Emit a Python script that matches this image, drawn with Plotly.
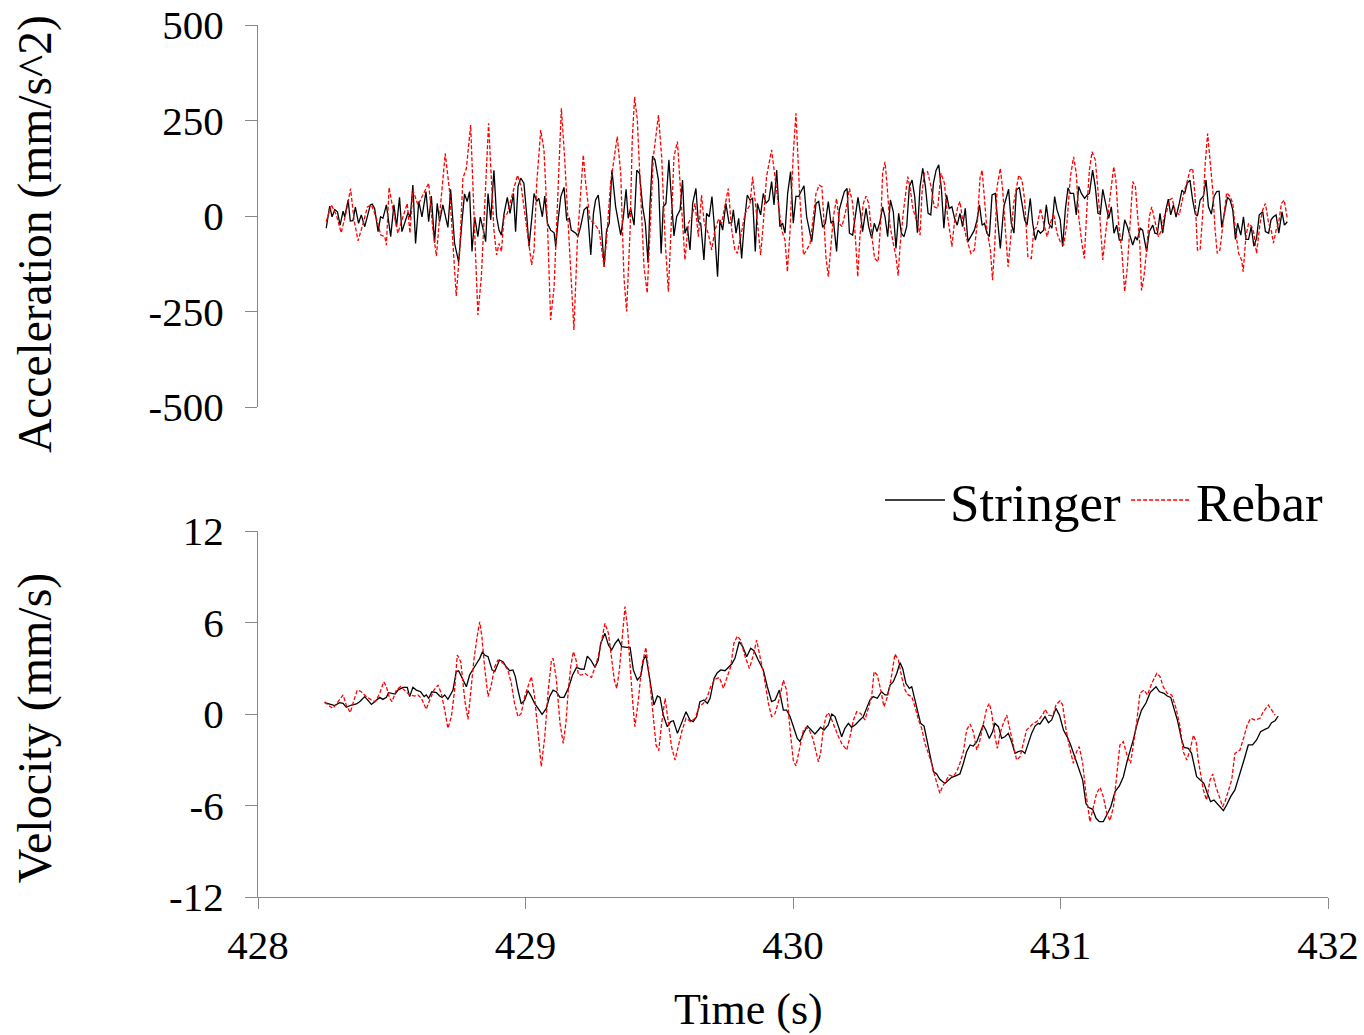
import plotly.graph_objects as go

T0 = 428.0  # time origin (s); time arrays below are seconds after T0

# ---------------- Acceleration (mm/s^2) ----------------
acc_stringer_t = (
    [0.255,0.268,0.277,0.287,0.297,0.307,0.318,0.324,0.337,0.345,0.355,0.364,0.376,0.386,0.399,0.409,0.420,0.427,0.436,0.449,0.458,0.467,0.480,0.496,0.508,0.518,0.529,0.538,0.551,0.561,0.569,0.579,0.589,0.601,0.613,0.628,0.638,0.648,0.660,0.670,0.679,0.691,0.710,0.720,0.735,0.750,0.762,0.772,0.782,0.791,0.800,0.810,0.822,0.831]
    + [0.845,0.851,0.860,0.870,0.882,0.892,0.901,0.910,0.920,0.932,0.942,0.955,0.963,0.972,0.982,0.994,1.004,1.013,1.023,1.032,1.042,1.050,1.063,1.072,1.082,1.094,1.107,1.113,1.122,1.132,1.144,1.154,1.164,1.171,1.188,1.196,1.206,1.219,1.231,1.244,1.254,1.262,1.272,1.281,1.294,1.303,1.313,1.323,1.337,1.356,1.366,1.376,1.384,1.393,1.406,1.416,1.426,1.438,1.448,1.458]
    + [1.465,1.475,1.484,1.497,1.507,1.515,1.525,1.536,1.546,1.555,1.565,1.578,1.587,1.596,1.605,1.615,1.625,1.637,1.646,1.655,1.667,1.677,1.687,1.697,1.705,1.718,1.727,1.737,1.749,1.761,1.771,1.777,1.787,1.797,1.808,1.818,1.829,1.839,1.849,1.859,1.867,1.879,1.889,1.899,1.910,1.920,1.929,1.939,1.951,1.961,1.970,1.980,1.991,2.001,2.011,2.021,2.030,2.041,2.051,2.070,2.082]
    + [2.086,2.096,2.111,2.121,2.132,2.142,2.151,2.163,2.173,2.183,2.192,2.202,2.211,2.223,2.233,2.243,2.253,2.260,2.273,2.283,2.294,2.304,2.314,2.325,2.335,2.344,2.354,2.364,2.375,2.385,2.395,2.405,2.415,2.425,2.435,2.445,2.455,2.465,2.475,2.485,2.495,2.505,2.515,2.525,2.535,2.545,2.555,2.564,2.574,2.584,2.594,2.604,2.614,2.624,2.634,2.644,2.654,2.664,2.678,2.688,2.697]
    + [2.707,2.716,2.725,2.734,2.744,2.756,2.766,2.775,2.788,2.796,2.806,2.816,2.826,2.835,2.846,2.856,2.866,2.875,2.887,2.896,2.906,2.916,2.925,2.937,2.947,2.956,2.968,2.978,2.987,2.999,3.008,3.018,3.028,3.037,3.049,3.059,3.068,3.078,3.090,3.100,3.108,3.120,3.130,3.140,3.149,3.158,3.168,3.180,3.190,3.200,3.210,3.220,3.230,3.240,3.250,3.260,3.270,3.280,3.287,3.298]
    + [3.307,3.322,3.332,3.345,3.353,3.362,3.372,3.382,3.394,3.403,3.412,3.422,3.432,3.444,3.454,3.464,3.474,3.484,3.494,3.504,3.512,3.522,3.534,3.544,3.553,3.564,3.574,3.584,3.593,3.603,3.612,3.624,3.634,3.644,3.654,3.662,3.674,3.684,3.693,3.703,3.713,3.723,3.733,3.743,3.756,3.766,3.778,3.787,3.796,3.806,3.816,3.828,3.837,3.848]
)
acc_stringer = (
    [-32,26,-2,17,11,-24,13,-2,42,-13,-12,23,-19,3,-28,-2,29,31,20,-41,-2,-6,29,-54,29,-28,49,-41,-10,9,-4,81,-72,38,-2,64,-15,52,-70,33,-15,29,-30,70,-72,-120,-19,58,38,64,-93,-2,-54,-3]
    + [-45,-67,59,-10,120,-2,-37,-50,7,49,7,59,-41,77,99,86,7,-80,-10,59,38,46,-2,52,-19,-37,-44,-80,-10,51,75,-10,-6,-37,-45,-54,-28,16,24,-102,7,42,55,-2,-133,-37,-19,120,24,-50,-2,70,-6,20,-24,120,112,24,-19,-122]
    + [24,157,147,94,-98,24,33,147,42,-52,-2,16,94,-45,-28,-89,33,72,-15,-19,-115,7,-2,51,-19,-159,-10,-37,33,-19,-17,16,-45,-6,-111,-19,55,42,46,-93,33,3,59,33,42,90,29,120,-28,-19,-45,59,116,-19,52,51,64,79,-2,-67,7]
    + [33,38,-30,-19,38,-19,-12,-93,16,42,64,72,-45,-50,-2,49,3,-41,20,-28,-58,-19,-41,-15,24,-2,-54,42,11,-85,7,-45,-54,-28,77,94,51,-44,77,125,77,7,3,86,120,134,68,-32,55,20,24,-6,-24,7,-28,20,-67,-54,-37,-10,29]
    + [-24,-19,-45,-54,55,59,-19,-85,24,42,70,-19,-45,68,75,33,-10,-24,46,-19,-63,-37,-45,-37,29,-19,-32,51,16,-10,-80,16,74,59,59,3,77,59,46,55,59,120,77,7,5,70,33,-6,24,-45,-24,-63,-63,-10,-28,-54,-76,-54,-63,-32]
    + [-37,-93,-41,-24,-45,-47,7,-45,16,44,3,29,-3,33,68,59,86,94,42,5,0,42,52,94,24,5,51,64,65,-30,7,49,42,16,-61,-19,-50,-2,-61,-61,-28,-79,-58,3,11,-41,-45,-10,-2,3,-45,11,-24,-15]
)

acc_rebar_t = (
    [0.255,0.274,0.293,0.311,0.330,0.346,0.359,0.374,0.393,0.409,0.424,0.443,0.459,0.474,0.480,0.490,0.505,0.523,0.536,0.558,0.568,0.579,0.598,0.617,0.638,0.654,0.667,0.683,0.700,0.717,0.729,0.741,0.754,0.766,0.779,0.795,0.804,0.816,0.822,0.835]
    + [0.862,0.872,0.882,0.892,0.901,0.910,0.920,0.932,0.945,0.970,0.984,1.001,1.013,1.023,1.032,1.042,1.057,1.069,1.082,1.094,1.107,1.119,1.134,1.146,1.163,1.181,1.194,1.206,1.216,1.225,1.241,1.256,1.275,1.294,1.303,1.318,1.343,1.356,1.368,1.378,1.391,1.399,1.408,1.418,1.431,1.443,1.455]
    + [1.465,1.478,1.497,1.509,1.522,1.534,1.543,1.555,1.568,1.578,1.587,1.596,1.609,1.621,1.634,1.646,1.658,1.668,1.683,1.696,1.708,1.721,1.733,1.746,1.758,1.771,1.783,1.792,1.804,1.821,1.839,1.849,1.862,1.870,1.879,1.889,1.901,1.920,1.933,1.945,1.958,1.970,1.979,1.989,2.001,2.011,2.024,2.039,2.051,2.064,2.076]
    + [2.086,2.098,2.108,2.117,2.123,2.132,2.142,2.151,2.163,2.173,2.183,2.198,2.211,2.223,2.233,2.242,2.250,2.263,2.273,2.283,2.295,2.305,2.318,2.329,2.335,2.344,2.351,2.363,2.375,2.385,2.393,2.400,2.412,2.429,2.439,2.447,2.457,2.466,2.475,2.482,2.491,2.503,2.516,2.528,2.541,2.553,2.566,2.578,2.587,2.594,2.603,2.616,2.624,2.634,2.647,2.657,2.665,2.678,2.690,2.699]
    + [2.707,2.716,2.725,2.738,2.746,2.754,2.763,2.775,2.784,2.794,2.804,2.812,2.825,2.844,2.856,2.866,2.878,2.891,2.900,2.912,2.925,2.937,2.950,2.962,2.974,2.987,2.999,3.012,3.024,3.037,3.049,3.059,3.068,3.080,3.089,3.099,3.108,3.118,3.130,3.140,3.149,3.158,3.170,3.182,3.199,3.207,3.217,3.230,3.240,3.250,3.260,3.270,3.280,3.292]
    + [3.297,3.303,3.312,3.322,3.332,3.341,3.353,3.366,3.378,3.387,3.397,3.407,3.417,3.428,3.444,3.453,3.462,3.472,3.484,3.494,3.503,3.512,3.522,3.531,3.541,3.550,3.559,3.569,3.578,3.586,3.596,3.609,3.621,3.634,3.644,3.654,3.666,3.677,3.683,3.693,3.703,3.715,3.723,3.733,3.746,3.756,3.766,3.778,3.789,3.796,3.806,3.816,3.826,3.836,3.848]
)
acc_rebar = (
    [-15,29,3,-44,11,72,-10,-65,-19,24,29,-6,-50,-54,-76,75,16,-45,-15,33,-45,68,29,55,86,-37,-105,33,164,59,-80,-209,-89,99,125,238,68,-124,-259,-159]
    + [243,103,-37,-102,-72,-93,-2,7,42,107,77,-19,-80,-128,-89,86,225,173,-19,-272,-185,24,282,155,-63,-298,-63,68,160,86,-10,-19,-37,-133,-63,86,208,112,-159,-250,-37,199,312,251,68,-133,-202]
    + [-54,155,264,155,-63,-198,-54,155,195,86,-2,-115,-19,-2,33,-54,55,-19,-45,-89,-37,-10,-19,24,72,-37,-89,-98,-54,7,29,103,16,-37,-102,-19,103,173,94,33,-37,-63,-146,-37,164,269,68,-102,-89,-72,-2]
    + [59,81,77,-28,-106,-159,-80,-2,46,-19,-28,16,72,33,-54,-159,-54,33,52,33,-54,-111,-120,-2,112,142,86,-28,-72,-106,-156,-80,7,103,68,24,-2,-19,-50,59,112,116,77,24,20,112,86,-2,-45,-80,-19,24,38,-10,-54,-80,-98,-89,-10,99]
    + [120,42,-37,-89,-168,-80,77,125,68,-37,-133,-72,33,107,94,42,-106,-111,-37,-28,20,-19,-54,-19,7,-45,-67,-76,-19,103,155,112,-2,-72,-111,24,120,168,147,68,-28,-115,-37,33,129,94,-19,-98,-198,-133,-19,90,77,-19]
    + [-80,-195,-159,-89,-2,24,-10,-54,-37,-2,11,42,46,16,3,33,64,86,120,125,51,-89,-89,-2,138,216,155,68,-37,-98,-89,-10,61,51,33,-37,-98,-115,-146,-54,-19,-28,-45,-98,-19,16,33,-19,-41,-71,-37,-15,33,42,-6]
)

# ---------------- Velocity (mm/s) ----------------
vel_stringer_t = (
    [0.249,0.268,0.287,0.305,0.318,0.330,0.349,0.368,0.380,0.399,0.411,0.424,0.436,0.455,0.467,0.480,0.488,0.501,0.513,0.523,0.542,0.558,0.567,0.579,0.592,0.608,0.621,0.629,0.638,0.650,0.667,0.679,0.688,0.698,0.710,0.729,0.741,0.750,0.763,0.779,0.791,0.804,0.816,0.829,0.839,0.847,0.860,0.875,0.885,0.903,0.916,0.928,0.941,0.953,0.962,0.972,0.984,0.997,1.009,1.022,1.034,1.047,1.062,1.078,1.090,1.103,1.115]
    + [1.129,1.144,1.160,1.176,1.191,1.206,1.219,1.231,1.244,1.260,1.272,1.281,1.297,1.310,1.322,1.335,1.347,1.360,1.378,1.391,1.403,1.418,1.431,1.441,1.450,1.465,1.480,1.493,1.503,1.515,1.530,1.543,1.553,1.568,1.584,1.600,1.615,1.627,1.640,1.652,1.667,1.680,1.690,1.705,1.717,1.730,1.746,1.758,1.771,1.783,1.799,1.812,1.827,1.842,1.854,1.870,1.889,1.904,1.920,1.933,1.949,1.964,1.976,1.989,2.001,2.016,2.026]
    + [2.039,2.054,2.066,2.082,2.095,2.103,2.116,2.132,2.145,2.157,2.170,2.182,2.194,2.207,2.219,2.232,2.250,2.263,2.275,2.288,2.300,2.315,2.331,2.344,2.353,2.363,2.375,2.388,2.400,2.410,2.422,2.435,2.444,2.456,2.469,2.477,2.490,2.500,2.515,2.525,2.537,2.549,2.568,2.581,2.593,2.606,2.624,2.637,2.649,2.662,2.674,2.687,2.699,2.711,2.721,2.734,2.746,2.755,2.768,2.780,2.792,2.805,2.817,2.830,2.842,2.855,2.867,2.880,2.892,2.905,2.917]
    + [2.923,2.942,2.955,2.967,2.983,2.996,3.011,3.026,3.038,3.051,3.067,3.083,3.095,3.104,3.120,3.133,3.145,3.160,3.173,3.188,3.204,3.220,3.235,3.250,3.272,3.287,3.303,3.320,3.335,3.347,3.357,3.370,3.387,3.399,3.412,3.424,3.437,3.453,3.462,3.478,3.490,3.509,3.524,3.536,3.549,3.561,3.574,3.586,3.596,3.609,3.621,3.636,3.652,3.668,3.686,3.702,3.718,3.733,3.748,3.764,3.777,3.789,3.802,3.814]
)
vel_stringer = (
    [0.74,0.66,0.55,0.74,0.70,0.44,0.59,0.66,0.81,1.14,0.87,0.63,0.81,1.09,0.96,1.09,1.40,1.36,1.31,1.57,1.75,1.75,1.14,1.75,1.57,1.46,1.14,1.25,1.03,1.46,1.40,1.18,1.09,1.25,0.96,1.57,2.78,2.84,2.40,1.79,2.56,2.89,3.28,3.65,4.09,3.87,3.76,2.89,2.78,3.54,3.43,3.10,2.84,2.89,2.45,1.57,0.66,0.92,1.53,1.14,0.70,0.37,-0.02,0.37,1.14,1.57,1.46]
    + [1.09,1.09,1.68,2.56,3.06,2.95,2.93,3.80,3.54,3.06,3.54,4.63,5.29,4.52,4.20,4.63,4.90,4.42,4.37,4.37,2.89,2.23,2.49,3.54,3.87,2.23,0.59,1.18,1.09,-0.07,-0.83,-0.50,-0.44,-1.27,-0.61,0.15,-0.39,-0.50,-0.17,0.81,0.92,0.70,1.03,2.34,2.71,2.89,2.84,3.06,3.28,3.65,4.74,4.42,3.76,4.31,4.15,3.54,2.89,1.79,0.81,0.92,1.57,0.26,0.26,-0.17,-0.83,-1.60,-1.81]
    + [-1.27,-0.79,-1.01,-1.31,-1.05,-0.87,-1.05,-0.72,0.0,-0.17,-0.83,-1.49,-0.94,-0.61,-0.87,-0.72,-0.39,-0.17,0.37,0.92,1.14,1.03,1.46,1.25,1.25,1.90,2.12,2.67,3.37,2.99,2.01,1.68,1.79,0.92,-0.17,-0.61,-0.79,-1.70,-3.02,-3.78,-3.93,-4.28,-4.55,-4.33,-4.15,-4.07,-3.93,-3.23,-2.47,-2.03,-2.10,-1.81,-1.27,-0.72,-1.05,-1.60,-1.16,-0.61,-0.83,-1.60,-1.49,-1.27,-1.81,-2.58,-2.47,-2.40,-2.58,-1.92,-1.27,-0.79,-0.61]
    + [-0.66,-0.17,-0.57,-0.39,0.37,-0.07,-1.05,-1.53,-2.03,-2.69,-3.45,-4.33,-5.86,-6.12,-6.25,-6.84,-7.06,-7.06,-6.62,-6.08,-5.09,-4.72,-4.11,-3.02,-1.70,-0.61,0.26,0.74,1.40,1.62,1.79,1.46,1.36,1.18,1.09,0.37,-0.39,-1.70,-2.19,-2.25,-2.58,-4.11,-4.33,-4.55,-5.20,-5.75,-5.64,-5.86,-6.08,-6.34,-5.97,-5.42,-4.98,-4.11,-3.02,-2.03,-2.03,-1.70,-1.16,-1.01,-0.90,-0.57,-0.44,-0.13]
)

vel_rebar_t = (
    [0.249,0.262,0.280,0.299,0.318,0.330,0.345,0.355,0.371,0.386,0.405,0.424,0.439,0.455,0.470,0.480,0.492,0.501,0.517,0.533,0.548,0.567,0.586,0.598,0.611,0.629,0.642,0.658,0.673,0.685,0.698,0.710,0.723,0.735,0.745,0.758,0.773,0.785,0.795,0.807,0.820,0.829,0.837,0.847,0.860,0.872,0.885,0.897,0.910,0.922,0.934,0.947,0.959,0.972,0.984,0.997,1.009,1.022,1.034,1.047,1.059,1.072,1.084,1.097,1.103,1.115]
    + [1.129,1.141,1.151,1.160,1.169,1.179,1.189,1.198,1.210,1.222,1.235,1.247,1.260,1.272,1.285,1.297,1.310,1.322,1.332,1.341,1.351,1.363,1.372,1.381,1.391,1.401,1.409,1.422,1.434,1.450,1.463,1.478,1.488,1.498,1.509,1.522,1.534,1.546,1.559,1.571,1.584,1.600,1.617,1.634,1.650,1.665,1.680,1.692,1.708,1.725,1.740,1.752,1.767,1.779,1.792,1.804,1.821,1.837,1.852,1.864,1.877,1.892,1.908,1.920,1.933,1.951,1.964,1.976,1.989,2.001,2.011]
    + [2.026,2.039,2.049,2.061,2.074,2.086,2.095,2.103,2.113,2.123,2.132,2.145,2.157,2.170,2.182,2.201,2.213,2.226,2.238,2.253,2.269,2.282,2.294,2.303,2.315,2.328,2.340,2.353,2.365,2.381,2.394,2.406,2.419,2.431,2.444,2.456,2.469,2.481,2.493,2.506,2.518,2.531,2.543,2.549,2.559,2.572,2.584,2.599,2.612,2.624,2.637,2.649,2.662,2.674,2.687,2.699,2.711,2.724,2.734,2.743,2.755,2.764,2.774,2.786,2.799,2.811,2.824,2.836,2.849,2.861,2.873,2.886,2.898,2.911,2.923,2.936]
    + [2.942,2.955,2.971,2.983,2.998,3.008,3.021,3.033,3.048,3.060,3.070,3.083,3.095,3.110,3.123,3.135,3.148,3.160,3.173,3.185,3.198,3.210,3.222,3.235,3.250,3.262,3.272,3.285,3.297,3.312,3.325,3.341,3.360,3.372,3.384,3.399,3.416,3.432,3.447,3.459,3.472,3.484,3.497,3.507,3.515,3.524,3.534,3.546,3.559,3.569,3.581,3.596,3.606,3.615,3.627,3.640,3.652,3.671,3.686,3.698,3.711,3.727,3.746,3.758,3.777,3.789,3.802]
)
vel_rebar = (
    [0.81,0.59,0.37,0.81,1.25,0.59,0.09,0.70,1.57,1.46,1.14,0.92,0.81,1.36,2.12,1.79,1.03,0.81,1.57,1.79,1.57,1.25,1.18,1.25,1.03,0.31,0.92,1.57,1.90,1.36,0.26,-0.94,-0.17,1.57,3.87,3.43,0.92,-0.35,1.36,3.54,5.18,6.05,5.07,3.10,1.14,1.90,3.10,3.54,3.43,3.21,2.89,2.01,0.70,-0.17,0.04,1.14,1.79,2.45,1.14,-1.49,-3.45,-1.49,1.36,3.54,3.65,2.34]
    + [-0.61,-1.92,-0.61,1.57,3.10,4.09,3.54,2.56,2.56,2.67,2.49,2.40,3.10,3.76,4.85,5.95,5.29,3.54,2.23,1.68,2.89,5.29,7.04,5.73,2.89,0.70,-0.83,0.92,3.10,4.37,2.45,-0.39,-2.03,-2.40,-0.61,1.03,-0.61,-2.14,-3.02,-2.14,-1.16,-0.28,-0.50,-0.28,0.48,0.70,1.14,1.79,2.27,2.40,1.68,2.34,3.10,4.63,5.11,4.85,3.76,2.99,3.87,4.85,3.76,2.45,0.70,-0.17,0.04,1.14,2.23,1.57,-1.05,-3.02,-3.41]
    + [-2.25,-1.05,-0.87,-1.05,-1.60,-2.58,-3.13,-2.58,-1.05,-0.17,0.09,-0.39,-0.94,-1.49,-1.92,-2.36,-1.49,-0.39,0.15,0.04,-0.39,0.48,1.14,2.78,2.56,1.57,0.48,1.14,2.12,3.93,3.54,2.45,1.57,1.25,1.14,0.48,-0.39,-0.94,-1.92,-2.58,-3.23,-4.11,-4.77,-5.20,-4.77,-4.33,-4.00,-4.11,-3.78,-3.23,-2.47,-1.05,-0.66,-1.16,-2.36,-1.70,-0.61,0.37,0.70,0.04,-1.49,-2.25,-1.27,-0.61,-0.07,-1.05,-1.92,-3.02,-2.80,-1.92,-1.05,-0.83,-0.61,-0.50,-0.28,0.04]
    + [0.31,-0.07,-0.13,0.59,0.87,0.59,-1.05,-2.14,-3.23,-2.47,-2.14,-3.23,-5.20,-7.06,-6.08,-5.20,-4.81,-5.42,-6.51,-6.99,-6.08,-4.11,-2.03,-1.81,-2.80,-3.23,-2.14,-0.50,1.36,1.57,1.25,2.01,2.67,2.45,1.79,1.36,1.25,0.37,-0.83,-2.47,-3.02,-2.36,-1.38,-1.81,-3.02,-4.00,-4.98,-5.64,-4.33,-3.93,-4.77,-5.53,-6.08,-5.75,-4.98,-4.33,-2.58,-2.36,-1.49,-0.72,-0.28,-0.39,-0.28,0.15,0.59,0.26,-0.07]
)

x_ticks = [428, 429, 430, 431, 432]
acc_ticks = [-500, -250, 0, 250, 500]
acc_tick_labels = ["-500", "-250", "0", "250", "500"]
vel_ticks = [-12, -6, 0, 6, 12]
vel_tick_labels = ["-12", "-6", "0", "6", "12"]

FONT = "Liberation Serif"
AXIS_GREY = "#898989"


def xy(ts, vs):
    pairs = list(zip(ts, vs))
    return [T0 + t for t, _ in pairs], [v for _, v in pairs]


fig = go.Figure()
xs, ys = xy(acc_stringer_t, acc_stringer)
fig.add_trace(go.Scatter(x=xs, y=ys, mode="lines", name="Stringer", legendgroup="s",
                         showlegend=False, line=dict(color="black", width=1.3),
                         xaxis="x", yaxis="y"))
xs, ys = xy(acc_rebar_t, acc_rebar)
fig.add_trace(go.Scatter(x=xs, y=ys, mode="lines", name="Rebar", legendgroup="r",
                         showlegend=False, line=dict(color="#ff0000", width=1.3, dash="4px,2px"),
                         xaxis="x", yaxis="y"))
xs, ys = xy(vel_stringer_t, vel_stringer)
fig.add_trace(go.Scatter(x=xs, y=ys, mode="lines", name="Stringer", legendgroup="s",
                         line=dict(color="black", width=1.3), xaxis="x2", yaxis="y2"))
xs, ys = xy(vel_rebar_t, vel_rebar)
fig.add_trace(go.Scatter(x=xs, y=ys, mode="lines", name="Rebar", legendgroup="r",
                         line=dict(color="#ff0000", width=1.3, dash="4px,2px"),
                         xaxis="x2", yaxis="y2"))

yax_common = dict(showline=True, linecolor=AXIS_GREY, linewidth=1.3, ticks="outside",
                  ticklen=12, tickcolor=AXIS_GREY, tickwidth=1.3, showgrid=False,
                  zeroline=False, tickfont=dict(family=FONT, size=41, color="black"),
                  ticklabelstandoff=13, automargin=False, ticklabeloverflow="allow")

fig.update_layout(
    width=1364, height=1035,
    margin=dict(l=258, r=36, t=25, b=138),
    paper_bgcolor="white", plot_bgcolor="white",
    font=dict(family=FONT, color="black"),
    xaxis=dict(domain=[0, 1], range=[428, 432], anchor="y", visible=False,
               matches="x2", showgrid=False, zeroline=False, automargin=False),
    yaxis=dict(domain=[0.5619, 1.0], range=[-500, 500], tickvals=acc_ticks,
               ticktext=acc_tick_labels, anchor="x", **yax_common),
    xaxis2=dict(domain=[0, 1], range=[428, 432], tickvals=x_ticks,
                ticktext=[str(v) for v in x_ticks], anchor="y2",
                showline=True, linecolor=AXIS_GREY, linewidth=1.3, ticks="outside",
                ticklen=11, tickcolor=AXIS_GREY, tickwidth=1.3, showgrid=False,
                zeroline=False, tickfont=dict(family=FONT, size=41, color="black"),
                ticklabelstandoff=1, automargin=False, ticklabeloverflow="allow"),
    yaxis2=dict(domain=[0.0, 0.4197], range=[-12, 12], tickvals=vel_ticks,
                ticktext=vel_tick_labels, anchor="x2", **yax_common),
    legend=dict(orientation="h", x=1.0, xanchor="right", y=0.4552, yanchor="middle",
                font=dict(family=FONT, size=53, color="black"), bgcolor="rgba(0,0,0,0)",
                itemwidth=60, tracegroupgap=0),
    annotations=[
        dict(text="Acceleration (mm/s^2)", xref="paper", yref="paper", x=-0.2084, y=0.7603,
             xanchor="center", yanchor="middle", textangle=-90, showarrow=False,
             font=dict(family=FONT, size=47.5, color="black")),
        dict(text="Velocity (mm/s)", xref="paper", yref="paper", x=-0.2084, y=0.1935,
             xanchor="center", yanchor="middle", textangle=-90, showarrow=False,
             font=dict(family=FONT, size=48, color="black")),
        dict(text="Time (s)", xref="paper", yref="paper", x=0.458, y=-0.129,
             xanchor="center", yanchor="middle", showarrow=False,
             font=dict(family=FONT, size=44, color="black")),
    ],
)

# Remove the page's default 8 px body margin so the 1364x1035 figure fills the window.
fig.write_html("out.html", config={"displayModeBar": False},
               post_script="document.body.style.margin='0';")
